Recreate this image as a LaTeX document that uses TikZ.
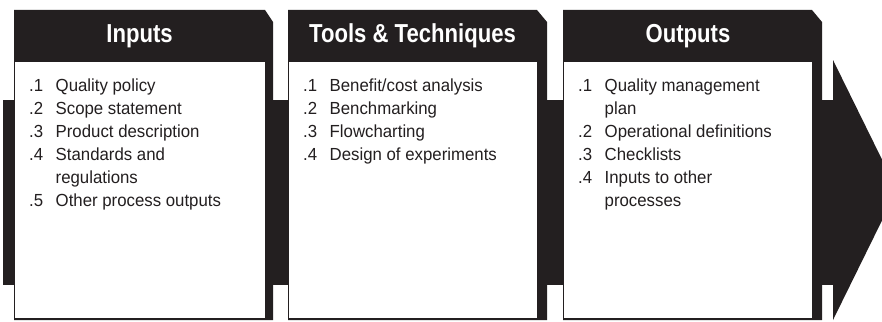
\documentclass[tikz,border=0pt]{standalone}
\usepackage{fontspec}
\setmainfont{Liberation Sans}
\newfontfamily\headfont[FakeStretch=0.85]{Liberation Sans}
\newfontfamily\listfont[FakeStretch=0.96]{Liberation Sans}
\usetikzlibrary{positioning}
\definecolor{inkblack}{HTML}{231F20}
\tikzset{
  slab/.style={fill=inkblack},
  body/.style={
    rectangle, draw=inkblack, fill=white, line width=0.8pt,
    anchor=north west, minimum height=257pt, inner sep=0pt,
  },
  head/.style={anchor=base, text=white, inner sep=0pt,
    font=\headfont\bfseries\fontsize{26}{26}\selectfont},
  items/.style={anchor=north west, inner sep=0pt, text=inkblack,
    font=\listfont\fontsize{17.5}{23}\selectfont},
}

\begin{document}
\begin{tikzpicture}[x=1pt, y=-1pt]
\useasboundingbox (0,0) rectangle (882,321);
\clip (0,0) rectangle (882,321);

% ── process band and arrow head ────────────────────────────────────────
\fill[slab] (3,100) rectangle (840,285);
\fill[slab] (833,60) -- (897,190) -- (833,320) -- cycle;

% ── Inputs ─────────────────────────────────────────────────────────────
\fill[slab] (14,10) -- (265,10) -- (273,22) -- (273,320) -- (14,320) -- cycle;
\node[body, minimum width=251pt] (inbody) at (14,61) {};
\node[head] (inhead) at (139.5,43) {Inputs};
\node[items] (inlist) at (29,75) {\begin{tabular}{@{}p{26.5pt}@{}l@{}}
  .1 & Quality policy\\
  .2 & Scope statement\\
  .3 & Product description\\
  .4 & Standards and\\
     & regulations\\
  .5 & Other process outputs
\end{tabular}};

% ── Tools & Techniques ─────────────────────────────────────────────────
\fill[slab] (288,10) -- (537,10) -- (547,22) -- (547,320) -- (288,320) -- cycle;
\node[body, minimum width=249pt] (ttbody) at (288,61) {};
\node[head] (tthead) at (412.5,43) {Tools \& Techniques};
\node[items] (ttlist) at (303,75) {\begin{tabular}{@{}p{26.5pt}@{}l@{}}
  .1 & Benefit/cost analysis\\
  .2 & Benchmarking\\
  .3 & Flowcharting\\
  .4 & Design of experiments
\end{tabular}};

% ── Outputs ────────────────────────────────────────────────────────────
\fill[slab] (563,10) -- (812,10) -- (822,22) -- (822,320) -- (563,320) -- cycle;
\node[body, minimum width=249pt] (outbody) at (563,61) {};
\node[head] (outhead) at (688,43) {Outputs};
\node[items] (outlist) at (578,75) {\begin{tabular}{@{}p{26.5pt}@{}l@{}}
  .1 & Quality management\\
     & plan\\
  .2 & Operational definitions\\
  .3 & Checklists\\
  .4 & Inputs to other\\
     & processes
\end{tabular}};

\end{tikzpicture}
\end{document}
